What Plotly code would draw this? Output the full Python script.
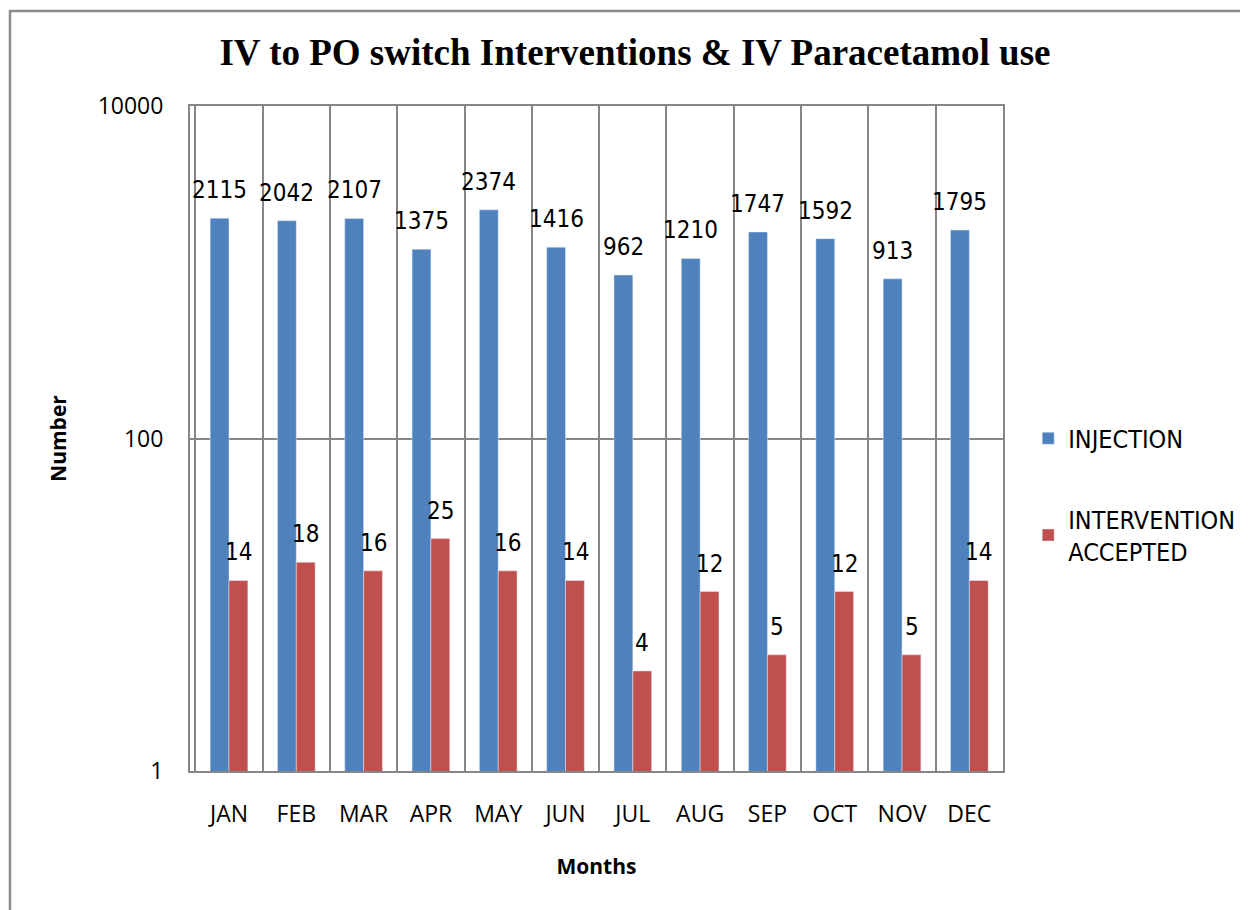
import numpy as np
import plotly.graph_objects as go

months = ["JAN", "FEB", "MAR", "APR", "MAY", "JUN", "JUL", "AUG", "SEP", "OCT", "NOV", "DEC"]
injection = [2115, 2042, 2107, 1375, 2374, 1416, 962, 1210, 1747, 1592, 913, 1795]
intervention = [14, 18, 16, 25, 16, 14, 4, 12, 5, 12, 5, 14]
y_ticks = [1, 100, 10000]
y_tick_text = ["1", "100", "10000"]

BLUE = "#4F81BD"
RED = "#C0504D"
GRID = "#868686"
NARROW = "Liberation Sans Narrow, DejaVu Sans Condensed, sans-serif"
LABEL_FONT = dict(family=NARROW, size=24, color="#000000")
TICK_FONT = dict(family="Open Sans", size=23, color="#000000")

L, R, T, B = 182, 253, 98, 147   # page body has an 8px offset
PW, PH = 1248 - L - R, 910 - T - B

fig = go.Figure()
fig.add_trace(go.Bar(x=months, y=injection, name="INJECTION", marker_color=BLUE,
                     legendgroup="a"))
fig.add_trace(go.Bar(x=months, y=intervention, name="INTERVENTION<br>ACCEPTED",
                     marker_color=RED, legendgroup="b"))

annotations = []
for m, v in zip(months, injection):
    annotations.append(dict(x=m, y=np.log10(v), text=str(v), showarrow=False,
                            xshift=-9.5, yshift=12, yanchor="bottom", font=LABEL_FONT))
for m, v in zip(months, intervention):
    annotations.append(dict(x=m, y=np.log10(v), text=str(v), showarrow=False,
                            xshift=9.5, yshift=12, yanchor="bottom", font=LABEL_FONT))

fig.update_layout(
    width=1248, height=910,
    margin=dict(l=L, r=R, t=T, b=B, autoexpand=False),
    paper_bgcolor="white", plot_bgcolor="white",
    barmode="group", bargap=0.44, bargroupgap=0,
    title=dict(text="<b>IV to PO switch Interventions &amp; IV Paracetamol use</b>",
               x=(635 - 8) / 1248, xanchor="center", y=1 - (52 - 8) / 910, yanchor="middle",
               font=dict(family="Liberation Serif", size=37, color="#000000")),
    legend=dict(x=1.031, y=0.415, xanchor="left", yanchor="middle",
                font=dict(family=NARROW, size=25, color="#000000"),
                tracegroupgap=45, itemwidth=30, bgcolor="rgba(0,0,0,0)"),
    annotations=annotations,
    xaxis=dict(
        tickfont=TICK_FONT, tickson="boundaries", ticks="", showgrid=True,
        gridcolor=GRID, gridwidth=1.5, showline=True, linecolor=GRID, linewidth=2,
        mirror=True, ticklabelstandoff=21,
        title=dict(text="<b>Months</b>", standoff=32,
                   font=dict(family="Open Sans", size=21, color="#000000")),
    ),
    yaxis=dict(
        type="log", range=[0, 4], tickvals=y_ticks, ticktext=y_tick_text,
        tickfont=TICK_FONT, showgrid=True, gridcolor=GRID, gridwidth=1.5,
        showline=True, linecolor=GRID, linewidth=2, mirror=True, ticks="",
        ticklabelstandoff=20, zeroline=False,
        title=dict(text="<b>Number</b>", standoff=25,
                   font=dict(family="Open Sans", size=21, color="#000000")),
    ),
    shapes=[dict(type="rect", xref="paper", yref="paper",
                 x0=(10 - 8 - L) / PW, x1=(1270 - L) / PW,
                 y0=(T + PH - 940) / PH, y1=(T + PH - (11 - 8)) / PH,
                 line=dict(color="#8c8c8c", width=2.5), fillcolor="rgba(0,0,0,0)",
                 layer="below")],
)

fig.write_html("out.html")
